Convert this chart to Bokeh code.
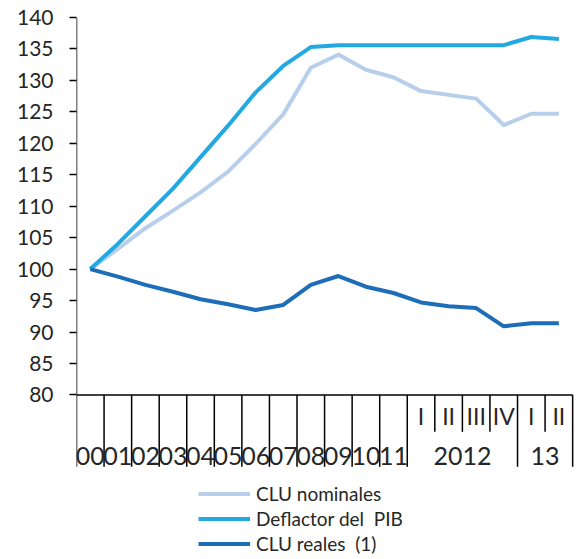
from bokeh.plotting import figure
from bokeh.models import Range1d, FixedTicker, Legend, LegendItem
from bokeh.embed import file_html
from bokeh.resources import INLINE
from bokeh.core.properties import value

# ---- data ----
periods = ["00", "01", "02", "03", "04", "05", "06", "07", "08", "09", "10", "11",
           "2012 I", "2012 II", "2012 III", "2012 IV", "2013 I", "2013 II"]
year_labels = ["00", "01", "02", "03", "04", "05", "06", "07", "08", "09", "10", "11"]
quarter_labels = ["I", "II", "III", "IV", "I", "II"]
group_labels = ["2012", "13"]
group_sizes = [4, 2]

clu_nominales = [100, 103.2, 106.5, 109.3, 112.2, 115.5, 119.9, 124.6, 132.0, 134.1,
                 131.7, 130.5, 128.3, 127.7, 127.1, 122.9, 124.7, 124.7]
deflactor_pib = [100, 104.0, 108.4, 112.8, 117.8, 122.8, 128.1, 132.3, 135.3, 135.6,
                 135.6, 135.6, 135.6, 135.6, 135.6, 135.6, 136.9, 136.6]
clu_reales = [100, 98.8, 97.5, 96.4, 95.2, 94.4, 93.5, 94.3, 97.5, 98.9,
              97.2, 96.2, 94.7, 94.1, 93.8, 90.9, 91.4, 91.4]

y_ticks = [80, 85, 90, 95, 100, 105, 110, 115, 120, 125, 130, 135, 140]

# ---- layout constants ----
W, H = 576, 556
TOP, LEFT = 17, 76
Y_MIN, Y_MAX = 80, 140
PX_PER_UNIT = 6.29
FRAME_H = H - TOP
Y_RANGE_BOTTOM = Y_MAX - FRAME_H / PX_PER_UNIT
LONG_BOTTOM = 68.57     # bottom of long category ticks
SHORT_BOTTOM = 74.13    # bottom of quarter ticks
Q_LABEL_Y = 76.6
YEAR_LABEL_Y = 70.3
FONT = "Lato"
TXT = "#262626"

n = len(periods)
xs = [i + 0.5 for i in range(n)]

p = figure(width=W, height=H, output_backend="svg", toolbar_location=None,
           x_range=Range1d(0, 18.14), y_range=Range1d(Y_RANGE_BOTTOM, Y_MAX),
           min_border_left=LEFT, min_border_right=0, min_border_top=TOP, min_border_bottom=0)
p.outline_line_color = None
p.grid.visible = False
p.xaxis.visible = False
p.background_fill_color = "white"

ya = p.yaxis[0]
ya.ticker = FixedTicker(ticks=y_ticks, minor_ticks=[])
ya.axis_line_color = None
ya.major_tick_line_color = "black"
ya.major_tick_line_width = 1.5
ya.major_tick_in = 0
ya.major_tick_out = 7
ya.minor_tick_line_color = None
ya.major_label_standoff = 16
ya.major_label_text_font = FONT
ya.major_label_text_font_size = "21px"
ya.major_label_text_color = TXT

# y axis line and x axis baseline
p.line(x=[0, 0], y=[Y_MIN, Y_MAX], line_color="black", line_width=1.5)
p.line(x=[0, n], y=[Y_MIN, Y_MIN], line_color="black", line_width=1.5)

# category boundary ticks
n_years = len(year_labels)
long_b = list(range(0, n_years + 1))
short_b = []
start = n_years
for g in group_sizes:
    short_b += [start + k for k in range(1, g)]
    start += g
    long_b.append(start)
p.segment(x0=long_b, y0=[Y_MIN] * len(long_b), x1=long_b, y1=[LONG_BOTTOM] * len(long_b),
          line_color="black", line_width=1.5)
p.segment(x0=short_b, y0=[Y_MIN] * len(short_b), x1=short_b, y1=[SHORT_BOTTOM] * len(short_b),
          line_color="black", line_width=1.5)

# labels
p.text(x=[i + 0.5 for i in range(n_years)], y=[YEAR_LABEL_Y] * n_years, text=year_labels,
       text_font=value(FONT), text_font_size="25px", text_color=TXT,
       text_align="center", text_baseline="middle")
p.text(x=xs[n_years:], y=[Q_LABEL_Y] * len(quarter_labels), text=quarter_labels,
       text_font=value(FONT), text_font_size="23px", text_color=TXT,
       text_align="center", text_baseline="middle")
gx = []
start = n_years
for g in group_sizes:
    gx.append(start + g / 2)
    start += g
p.text(x=gx, y=[YEAR_LABEL_Y] * len(gx), text=group_labels,
       text_font=value(FONT), text_font_size="25px", text_color=TXT,
       text_align="center", text_baseline="middle")

# series
r1 = p.line(xs, clu_nominales, line_color="#b8cfec", line_width=4, line_join="round")
r2 = p.line(xs, deflactor_pib, line_color="#22a9e1", line_width=4, line_join="round")
r3 = p.line(xs, clu_reales, line_color="#1e6db8", line_width=4, line_join="round")

legend = Legend(items=[LegendItem(label="CLU nominales", renderers=[r1]),
                       LegendItem(label="Deflactor del  PIB", renderers=[r2]),
                       LegendItem(label="CLU reales  (1)", renderers=[r3])],
                location=(122, 0), orientation="vertical",
                label_text_font=FONT, label_text_font_size="19px", label_text_color=TXT,
                glyph_width=52, glyph_height=25, label_height=25, spacing=0,
                label_standoff=6, padding=0, margin=0,
                border_line_color=None, background_fill_alpha=0)
p.add_layout(legend)

open("out.html", "w").write(file_html(p, INLINE))
